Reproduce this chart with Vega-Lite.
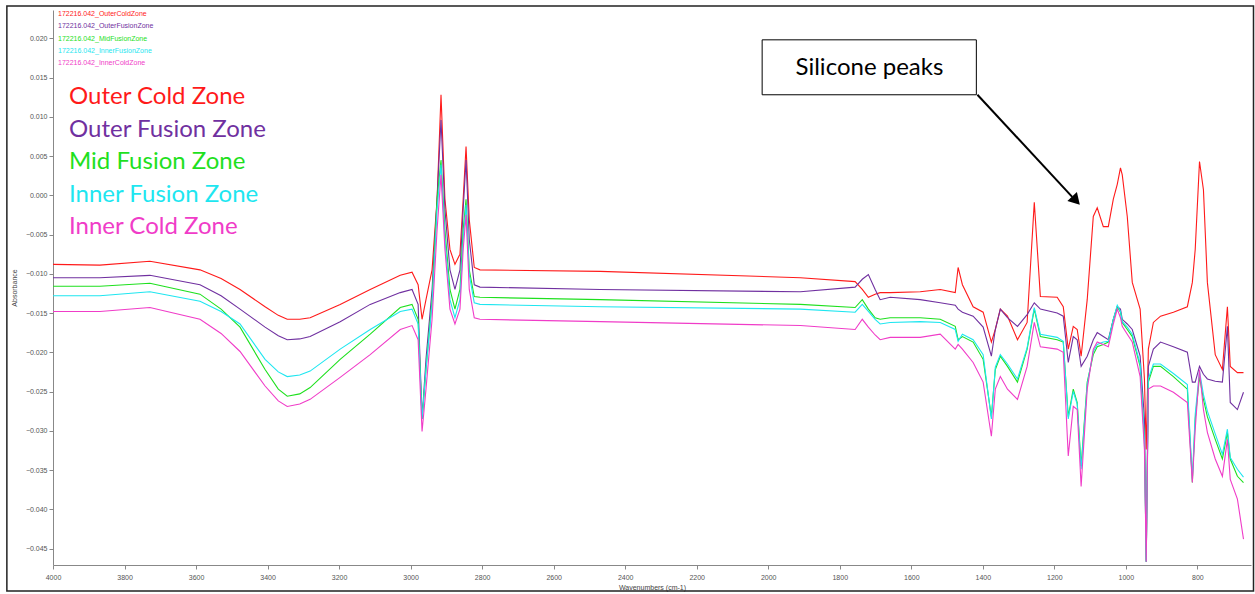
{
"$schema": "https://vega.github.io/schema/vega-lite/v6.json",
"width": 1198, "height": 555,
"autosize": {"type": "none"},
"padding": {"left": 53, "top": 10, "right": 4, "bottom": 29},
"background": "white",
"config": {"view": {"stroke": null}, "font": "Liberation Sans"},
"datasets": {
"spectra": [
{"wn":4000,"Outer Cold Zone":-0.0088,"Outer Fusion Zone":-0.0105,"Mid Fusion Zone":-0.0116,"Inner Fusion Zone":-0.0128,"Inner Cold Zone":-0.0148},
{"wn":3869,"Outer Cold Zone":-0.0089,"Outer Fusion Zone":-0.0105,"Mid Fusion Zone":-0.0116,"Inner Fusion Zone":-0.0128,"Inner Cold Zone":-0.0148},
{"wn":3729,"Outer Cold Zone":-0.0084,"Outer Fusion Zone":-0.0102,"Mid Fusion Zone":-0.0112,"Inner Fusion Zone":-0.0123,"Inner Cold Zone":-0.0143},
{"wn":3589,"Outer Cold Zone":-0.0095,"Outer Fusion Zone":-0.0114,"Mid Fusion Zone":-0.0126,"Inner Fusion Zone":-0.0135,"Inner Cold Zone":-0.0158},
{"wn":3530,"Outer Cold Zone":-0.0106,"Outer Fusion Zone":-0.0128,"Mid Fusion Zone":-0.0145,"Inner Fusion Zone":-0.0148,"Inner Cold Zone":-0.0176},
{"wn":3477,"Outer Cold Zone":-0.0120,"Outer Fusion Zone":-0.0145,"Mid Fusion Zone":-0.0168,"Inner Fusion Zone":-0.0164,"Inner Cold Zone":-0.0199},
{"wn":3407,"Outer Cold Zone":-0.0142,"Outer Fusion Zone":-0.0168,"Mid Fusion Zone":-0.0222,"Inner Fusion Zone":-0.0209,"Inner Cold Zone":-0.0243},
{"wn":3370,"Outer Cold Zone":-0.0153,"Outer Fusion Zone":-0.0179,"Mid Fusion Zone":-0.0247,"Inner Fusion Zone":-0.0225,"Inner Cold Zone":-0.0262},
{"wn":3345,"Outer Cold Zone":-0.0158,"Outer Fusion Zone":-0.0184,"Mid Fusion Zone":-0.0256,"Inner Fusion Zone":-0.0231,"Inner Cold Zone":-0.0269},
{"wn":3310,"Outer Cold Zone":-0.0158,"Outer Fusion Zone":-0.0183,"Mid Fusion Zone":-0.0253,"Inner Fusion Zone":-0.0229,"Inner Cold Zone":-0.0266},
{"wn":3281,"Outer Cold Zone":-0.0156,"Outer Fusion Zone":-0.0180,"Mid Fusion Zone":-0.0245,"Inner Fusion Zone":-0.0224,"Inner Cold Zone":-0.0260},
{"wn":3197,"Outer Cold Zone":-0.0139,"Outer Fusion Zone":-0.0161,"Mid Fusion Zone":-0.0209,"Inner Fusion Zone":-0.0196,"Inner Cold Zone":-0.0232},
{"wn":3113,"Outer Cold Zone":-0.0120,"Outer Fusion Zone":-0.0139,"Mid Fusion Zone":-0.0177,"Inner Fusion Zone":-0.0171,"Inner Cold Zone":-0.0203},
{"wn":3029,"Outer Cold Zone":-0.0102,"Outer Fusion Zone":-0.0124,"Mid Fusion Zone":-0.0143,"Inner Fusion Zone":-0.0148,"Inner Cold Zone":-0.0171},
{"wn":2996,"Outer Cold Zone":-0.0098,"Outer Fusion Zone":-0.0120,"Mid Fusion Zone":-0.0139,"Inner Fusion Zone":-0.0145,"Inner Cold Zone":-0.0166},
{"wn":2979,"Outer Cold Zone":-0.0114,"Outer Fusion Zone":-0.0139,"Mid Fusion Zone":-0.0158,"Inner Fusion Zone":-0.0164,"Inner Cold Zone":-0.0184},
{"wn":2968,"Outer Cold Zone":-0.0158,"Outer Fusion Zone":-0.0285,"Mid Fusion Zone":-0.0285,"Inner Fusion Zone":-0.0285,"Inner Cold Zone":-0.0301},
{"wn":2957,"Outer Cold Zone":-0.0133,"Outer Fusion Zone":-0.0209,"Mid Fusion Zone":-0.0222,"Inner Fusion Zone":-0.0222,"Inner Cold Zone":-0.0247},
{"wn":2940,"Outer Cold Zone":-0.0095,"Outer Fusion Zone":-0.0120,"Mid Fusion Zone":-0.0133,"Inner Fusion Zone":-0.0139,"Inner Cold Zone":-0.0158},
{"wn":2926,"Outer Cold Zone":-0.0005,"Outer Fusion Zone":-0.0005,"Mid Fusion Zone":-0.0005,"Inner Fusion Zone":-0.0018,"Inner Cold Zone":-0.0044},
{"wn":2915,"Outer Cold Zone":0.0128,"Outer Fusion Zone":0.0096,"Mid Fusion Zone":0.0045,"Inner Fusion Zone":0.0039,"Inner Cold Zone":0.0026},
{"wn":2904,"Outer Cold Zone":-0.0005,"Outer Fusion Zone":-0.0018,"Mid Fusion Zone":-0.0044,"Inner Fusion Zone":-0.0056,"Inner Cold Zone":-0.0069},
{"wn":2890,"Outer Cold Zone":-0.0069,"Outer Fusion Zone":-0.0095,"Mid Fusion Zone":-0.0120,"Inner Fusion Zone":-0.0133,"Inner Cold Zone":-0.0145},
{"wn":2876,"Outer Cold Zone":-0.0088,"Outer Fusion Zone":-0.0120,"Mid Fusion Zone":-0.0145,"Inner Fusion Zone":-0.0156,"Inner Cold Zone":-0.0164},
{"wn":2862,"Outer Cold Zone":-0.0075,"Outer Fusion Zone":-0.0095,"Mid Fusion Zone":-0.0120,"Inner Fusion Zone":-0.0133,"Inner Cold Zone":-0.0145},
{"wn":2853,"Outer Cold Zone":-0.0005,"Outer Fusion Zone":-0.0018,"Mid Fusion Zone":-0.0044,"Inner Fusion Zone":-0.0056,"Inner Cold Zone":-0.0069},
{"wn":2845,"Outer Cold Zone":0.0062,"Outer Fusion Zone":0.0045,"Mid Fusion Zone":-0.0005,"Inner Fusion Zone":-0.0012,"Inner Cold Zone":-0.0025},
{"wn":2836,"Outer Cold Zone":-0.0031,"Outer Fusion Zone":-0.0056,"Mid Fusion Zone":-0.0095,"Inner Fusion Zone":-0.0101,"Inner Cold Zone":-0.0120},
{"wn":2822,"Outer Cold Zone":-0.0092,"Outer Fusion Zone":-0.0114,"Mid Fusion Zone":-0.0129,"Inner Fusion Zone":-0.0137,"Inner Cold Zone":-0.0156},
{"wn":2806,"Outer Cold Zone":-0.0095,"Outer Fusion Zone":-0.0117,"Mid Fusion Zone":-0.0130,"Inner Fusion Zone":-0.0139,"Inner Cold Zone":-0.0158},
{"wn":2470,"Outer Cold Zone":-0.0097,"Outer Fusion Zone":-0.0120,"Mid Fusion Zone":-0.0133,"Inner Fusion Zone":-0.0142,"Inner Cold Zone":-0.0161},
{"wn":1910,"Outer Cold Zone":-0.0105,"Outer Fusion Zone":-0.0123,"Mid Fusion Zone":-0.0139,"Inner Fusion Zone":-0.0145,"Inner Cold Zone":-0.0166},
{"wn":1757,"Outer Cold Zone":-0.0110,"Outer Fusion Zone":-0.0117,"Mid Fusion Zone":-0.0143,"Inner Fusion Zone":-0.0149,"Inner Cold Zone":-0.0171},
{"wn":1737,"Outer Cold Zone":-0.0120,"Outer Fusion Zone":-0.0107,"Mid Fusion Zone":-0.0133,"Inner Fusion Zone":-0.0139,"Inner Cold Zone":-0.0158},
{"wn":1720,"Outer Cold Zone":-0.0130,"Outer Fusion Zone":-0.0101,"Mid Fusion Zone":-0.0145,"Inner Fusion Zone":-0.0148,"Inner Cold Zone":-0.0168},
{"wn":1701,"Outer Cold Zone":-0.0126,"Outer Fusion Zone":-0.0120,"Mid Fusion Zone":-0.0156,"Inner Fusion Zone":-0.0158,"Inner Cold Zone":-0.0178},
{"wn":1687,"Outer Cold Zone":-0.0124,"Outer Fusion Zone":-0.0133,"Mid Fusion Zone":-0.0158,"Inner Fusion Zone":-0.0164,"Inner Cold Zone":-0.0184},
{"wn":1659,"Outer Cold Zone":-0.0124,"Outer Fusion Zone":-0.0130,"Mid Fusion Zone":-0.0156,"Inner Fusion Zone":-0.0162,"Inner Cold Zone":-0.0181},
{"wn":1575,"Outer Cold Zone":-0.0123,"Outer Fusion Zone":-0.0133,"Mid Fusion Zone":-0.0156,"Inner Fusion Zone":-0.0161,"Inner Cold Zone":-0.0181},
{"wn":1519,"Outer Cold Zone":-0.0120,"Outer Fusion Zone":-0.0137,"Mid Fusion Zone":-0.0158,"Inner Fusion Zone":-0.0162,"Inner Cold Zone":-0.0177},
{"wn":1477,"Outer Cold Zone":-0.0124,"Outer Fusion Zone":-0.0140,"Mid Fusion Zone":-0.0167,"Inner Fusion Zone":-0.0171,"Inner Cold Zone":-0.0196},
{"wn":1469,"Outer Cold Zone":-0.0092,"Outer Fusion Zone":-0.0145,"Mid Fusion Zone":-0.0184,"Inner Fusion Zone":-0.0186,"Inner Cold Zone":-0.0190},
{"wn":1457,"Outer Cold Zone":-0.0114,"Outer Fusion Zone":-0.0149,"Mid Fusion Zone":-0.0180,"Inner Fusion Zone":-0.0177,"Inner Cold Zone":-0.0196},
{"wn":1427,"Outer Cold Zone":-0.0142,"Outer Fusion Zone":-0.0154,"Mid Fusion Zone":-0.0187,"Inner Fusion Zone":-0.0184,"Inner Cold Zone":-0.0213},
{"wn":1399,"Outer Cold Zone":-0.0149,"Outer Fusion Zone":-0.0168,"Mid Fusion Zone":-0.0209,"Inner Fusion Zone":-0.0203,"Inner Cold Zone":-0.0238},
{"wn":1376,"Outer Cold Zone":-0.0187,"Outer Fusion Zone":-0.0205,"Mid Fusion Zone":-0.0282,"Inner Fusion Zone":-0.0285,"Inner Cold Zone":-0.0307},
{"wn":1365,"Outer Cold Zone":-0.0171,"Outer Fusion Zone":-0.0171,"Mid Fusion Zone":-0.0222,"Inner Fusion Zone":-0.0219,"Inner Cold Zone":-0.0247},
{"wn":1351,"Outer Cold Zone":-0.0145,"Outer Fusion Zone":-0.0145,"Mid Fusion Zone":-0.0205,"Inner Fusion Zone":-0.0203,"Inner Cold Zone":-0.0231},
{"wn":1331,"Outer Cold Zone":-0.0154,"Outer Fusion Zone":-0.0156,"Mid Fusion Zone":-0.0218,"Inner Fusion Zone":-0.0215,"Inner Cold Zone":-0.0247},
{"wn":1303,"Outer Cold Zone":-0.0184,"Outer Fusion Zone":-0.0167,"Mid Fusion Zone":-0.0238,"Inner Fusion Zone":-0.0234,"Inner Cold Zone":-0.0260},
{"wn":1276,"Outer Cold Zone":-0.0162,"Outer Fusion Zone":-0.0152,"Mid Fusion Zone":-0.0196,"Inner Fusion Zone":-0.0194,"Inner Cold Zone":-0.0218},
{"wn":1256,"Outer Cold Zone":-0.0009,"Outer Fusion Zone":-0.0137,"Mid Fusion Zone":-0.0145,"Inner Fusion Zone":-0.0143,"Inner Cold Zone":-0.0162},
{"wn":1239,"Outer Cold Zone":-0.0129,"Outer Fusion Zone":-0.0145,"Mid Fusion Zone":-0.0180,"Inner Fusion Zone":-0.0177,"Inner Cold Zone":-0.0193},
{"wn":1192,"Outer Cold Zone":-0.0130,"Outer Fusion Zone":-0.0150,"Mid Fusion Zone":-0.0184,"Inner Fusion Zone":-0.0181,"Inner Cold Zone":-0.0196},
{"wn":1175,"Outer Cold Zone":-0.0142,"Outer Fusion Zone":-0.0154,"Mid Fusion Zone":-0.0187,"Inner Fusion Zone":-0.0186,"Inner Cold Zone":-0.0200},
{"wn":1161,"Outer Cold Zone":-0.0196,"Outer Fusion Zone":-0.0213,"Mid Fusion Zone":-0.0282,"Inner Fusion Zone":-0.0285,"Inner Cold Zone":-0.0332},
{"wn":1147,"Outer Cold Zone":-0.0167,"Outer Fusion Zone":-0.0180,"Mid Fusion Zone":-0.0247,"Inner Fusion Zone":-0.0250,"Inner Cold Zone":-0.0269},
{"wn":1136,"Outer Cold Zone":-0.0171,"Outer Fusion Zone":-0.0184,"Mid Fusion Zone":-0.0264,"Inner Fusion Zone":-0.0266,"Inner Cold Zone":-0.0273},
{"wn":1125,"Outer Cold Zone":-0.0205,"Outer Fusion Zone":-0.0218,"Mid Fusion Zone":-0.0345,"Inner Fusion Zone":-0.0349,"Inner Cold Zone":-0.0371},
{"wn":1108,"Outer Cold Zone":-0.0133,"Outer Fusion Zone":-0.0205,"Mid Fusion Zone":-0.0238,"Inner Fusion Zone":-0.0241,"Inner Cold Zone":-0.0247},
{"wn":1091,"Outer Cold Zone":-0.0027,"Outer Fusion Zone":-0.0184,"Mid Fusion Zone":-0.0203,"Inner Fusion Zone":-0.0199,"Inner Cold Zone":-0.0196},
{"wn":1080,"Outer Cold Zone":-0.0016,"Outer Fusion Zone":-0.0175,"Mid Fusion Zone":-0.0193,"Inner Fusion Zone":-0.0190,"Inner Cold Zone":-0.0187},
{"wn":1063,"Outer Cold Zone":-0.0040,"Outer Fusion Zone":-0.0180,"Mid Fusion Zone":-0.0190,"Inner Fusion Zone":-0.0187,"Inner Cold Zone":-0.0190},
{"wn":1049,"Outer Cold Zone":-0.0040,"Outer Fusion Zone":-0.0184,"Mid Fusion Zone":-0.0187,"Inner Fusion Zone":-0.0186,"Inner Cold Zone":-0.0193},
{"wn":1035,"Outer Cold Zone":-0.0005,"Outer Fusion Zone":-0.0158,"Mid Fusion Zone":-0.0158,"Inner Fusion Zone":-0.0158,"Inner Cold Zone":-0.0164},
{"wn":1024,"Outer Cold Zone":0.0014,"Outer Fusion Zone":-0.0142,"Mid Fusion Zone":-0.0142,"Inner Fusion Zone":-0.0140,"Inner Cold Zone":-0.0145},
{"wn":1015,"Outer Cold Zone":0.0035,"Outer Fusion Zone":-0.0145,"Mid Fusion Zone":-0.0149,"Inner Fusion Zone":-0.0148,"Inner Cold Zone":-0.0156},
{"wn":1010,"Outer Cold Zone":0.0026,"Outer Fusion Zone":-0.0158,"Mid Fusion Zone":-0.0162,"Inner Fusion Zone":-0.0161,"Inner Cold Zone":-0.0167},
{"wn":996,"Outer Cold Zone":-0.0027,"Outer Fusion Zone":-0.0164,"Mid Fusion Zone":-0.0171,"Inner Fusion Zone":-0.0168,"Inner Cold Zone":-0.0177},
{"wn":982,"Outer Cold Zone":-0.0111,"Outer Fusion Zone":-0.0171,"Mid Fusion Zone":-0.0180,"Inner Fusion Zone":-0.0177,"Inner Cold Zone":-0.0187},
{"wn":960,"Outer Cold Zone":-0.0145,"Outer Fusion Zone":-0.0205,"Mid Fusion Zone":-0.0218,"Inner Fusion Zone":-0.0215,"Inner Cold Zone":-0.0231},
{"wn":948,"Outer Cold Zone":-0.0234,"Outer Fusion Zone":-0.0285,"Mid Fusion Zone":-0.0311,"Inner Fusion Zone":-0.0311,"Inner Cold Zone":-0.0324},
{"wn":943,"Outer Cold Zone":-0.0324,"Outer Fusion Zone":-0.0467,"Mid Fusion Zone":-0.0467,"Inner Fusion Zone":-0.0467,"Inner Cold Zone":-0.0467},
{"wn":937,"Outer Cold Zone":-0.0196,"Outer Fusion Zone":-0.0218,"Mid Fusion Zone":-0.0238,"Inner Fusion Zone":-0.0234,"Inner Cold Zone":-0.0247},
{"wn":923,"Outer Cold Zone":-0.0162,"Outer Fusion Zone":-0.0196,"Mid Fusion Zone":-0.0218,"Inner Fusion Zone":-0.0215,"Inner Cold Zone":-0.0243},
{"wn":903,"Outer Cold Zone":-0.0154,"Outer Fusion Zone":-0.0187,"Mid Fusion Zone":-0.0218,"Inner Fusion Zone":-0.0215,"Inner Cold Zone":-0.0243},
{"wn":867,"Outer Cold Zone":-0.0149,"Outer Fusion Zone":-0.0193,"Mid Fusion Zone":-0.0231,"Inner Fusion Zone":-0.0227,"Inner Cold Zone":-0.0251},
{"wn":828,"Outer Cold Zone":-0.0142,"Outer Fusion Zone":-0.0200,"Mid Fusion Zone":-0.0247,"Inner Fusion Zone":-0.0241,"Inner Cold Zone":-0.0264},
{"wn":814,"Outer Cold Zone":-0.0111,"Outer Fusion Zone":-0.0238,"Mid Fusion Zone":-0.0366,"Inner Fusion Zone":-0.0362,"Inner Cold Zone":-0.0366},
{"wn":806,"Outer Cold Zone":-0.0069,"Outer Fusion Zone":-0.0238,"Mid Fusion Zone":-0.0285,"Inner Fusion Zone":-0.0279,"Inner Cold Zone":-0.0298},
{"wn":794,"Outer Cold Zone":0.0043,"Outer Fusion Zone":-0.0218,"Mid Fusion Zone":-0.0231,"Inner Fusion Zone":-0.0224,"Inner Cold Zone":-0.0222},
{"wn":783,"Outer Cold Zone":0.0007,"Outer Fusion Zone":-0.0228,"Mid Fusion Zone":-0.0260,"Inner Fusion Zone":-0.0254,"Inner Cold Zone":-0.0273},
{"wn":772,"Outer Cold Zone":-0.0111,"Outer Fusion Zone":-0.0234,"Mid Fusion Zone":-0.0282,"Inner Fusion Zone":-0.0275,"Inner Cold Zone":-0.0302},
{"wn":750,"Outer Cold Zone":-0.0203,"Outer Fusion Zone":-0.0237,"Mid Fusion Zone":-0.0311,"Inner Fusion Zone":-0.0304,"Inner Cold Zone":-0.0336},
{"wn":730,"Outer Cold Zone":-0.0222,"Outer Fusion Zone":-0.0238,"Mid Fusion Zone":-0.0336,"Inner Fusion Zone":-0.0330,"Inner Cold Zone":-0.0358},
{"wn":716,"Outer Cold Zone":-0.0142,"Outer Fusion Zone":-0.0167,"Mid Fusion Zone":-0.0302,"Inner Fusion Zone":-0.0298,"Inner Cold Zone":-0.0311},
{"wn":708,"Outer Cold Zone":-0.0218,"Outer Fusion Zone":-0.0264,"Mid Fusion Zone":-0.0336,"Inner Fusion Zone":-0.0334,"Inner Cold Zone":-0.0362},
{"wn":688,"Outer Cold Zone":-0.0226,"Outer Fusion Zone":-0.0273,"Mid Fusion Zone":-0.0358,"Inner Fusion Zone":-0.0349,"Inner Cold Zone":-0.0387},
{"wn":671,"Outer Cold Zone":-0.0226,"Outer Fusion Zone":-0.0251,"Mid Fusion Zone":-0.0366,"Inner Fusion Zone":-0.0359,"Inner Cold Zone":-0.0438}
],
"mini": [
{"label":"172216.042_OuterColdZone","series":"Outer Cold Zone","wn":3986,"a":0.0231},
{"label":"172216.042_OuterFusionZone","series":"Outer Fusion Zone","wn":3986,"a":0.0216},
{"label":"172216.042_MidFusionZone","series":"Mid Fusion Zone","wn":3986,"a":0.0199},
{"label":"172216.042_InnerFusionZone","series":"Inner Fusion Zone","wn":3986,"a":0.0184},
{"label":"172216.042_InnerColdZone","series":"Inner Cold Zone","wn":3986,"a":0.0169}
],
"one": [{}]
},
"layer": [
{
"data": {"name": "one"},
"mark": {"type": "rect", "fill": "transparent", "stroke": "#222222", "strokeWidth": 1.5, "clip": false},
"encoding": {
"x": {"datum": 4129, "type": "quantitative"},
"x2": {"datum": 643},
"y": {"datum": 0.0241, "type": "quantitative"},
"y2": {"datum": -0.0504}
}
},
{
"data": {"name": "spectra"},
"transform": [
{"fold": ["Outer Cold Zone", "Outer Fusion Zone", "Mid Fusion Zone", "Inner Fusion Zone", "Inner Cold Zone"], "as": ["series", "a"]}
],
"mark": {"type": "line", "strokeWidth": 1.1, "clip": true},
"encoding": {
"x": {"field": "wn", "type": "quantitative",
"scale": {"domain": [4000, 650], "nice": false, "zero": false},
"axis": {"values": [4000,3800,3600,3400,3200,3000,2800,2600,2400,2200,2000,1800,1600,1400,1200,1000,800],
"format": "d", "title": "Wavenumbers (cm-1)", "grid": false,
"labelFontSize": 7, "titleFontSize": 7, "titleFontWeight": "normal",
"labelColor": "#555555", "titleColor": "#444444", "tickColor": "#888888", "domainColor": "#888888",
"tickSize": 4, "labelPadding": 4, "titlePadding": 3, "labelFlush": false}},
"y": {"field": "a", "type": "quantitative",
"scale": {"domain": [-0.0471, 0.0236], "nice": false, "zero": false},
"axis": {"values": [0.02,0.015,0.01,0.005,0,-0.005,-0.01,-0.015,-0.02,-0.025,-0.03,-0.035,-0.04,-0.045],
"format": ".3f", "title": "Absorbance", "grid": false,
"labelFontSize": 7, "titleFontSize": 7, "titleFontWeight": "normal",
"labelColor": "#555555", "titleColor": "#444444", "tickColor": "#888888", "domainColor": "#888888",
"tickSize": 4, "labelPadding": 2, "titlePadding": 8}},
"color": {"field": "series", "type": "nominal",
"scale": {"domain": ["Outer Cold Zone", "Outer Fusion Zone", "Mid Fusion Zone", "Inner Fusion Zone", "Inner Cold Zone"],
"range": ["#FF1A1A", "#7030A0", "#1EE01E", "#1EE6F0", "#F03CC8"]},
"legend": {"orient": "none", "legendX": -8, "legendY": 75, "title": null,
"labelFont": "Lato", "labelFontSize": 24, "symbolSize": 0, "symbolOpacity": 0, "symbolStrokeWidth": 0,
"labelOffset": 0, "rowPadding": 8.6, "padding": 0, "labelLimit": 400,
"encode": {"labels": {"update": {"fill": {"scale": "color", "field": "value"}}}}}}
}
},
{
"data": {"name": "mini"},
"mark": {"type": "text", "fontSize": 7, "align": "left", "baseline": "middle", "clip": false},
"encoding": {
"x": {"field": "wn", "type": "quantitative"},
"y": {"field": "a", "type": "quantitative"},
"text": {"field": "label"},
"color": {"field": "series", "type": "nominal", "legend": null}
}
},
{
"data": {"name": "one"},
"mark": {"type": "rect", "fill": "white", "stroke": "black", "strokeWidth": 1},
"encoding": {
"x": {"datum": 2017, "type": "quantitative"},
"x2": {"datum": 1418},
"y": {"datum": 0.0198, "type": "quantitative"},
"y2": {"datum": 0.0128}
}
},
{
"data": {"name": "one"},
"mark": {"type": "text", "font": "Lato", "fontSize": 24, "color": "black", "align": "center", "baseline": "middle"},
"encoding": {
"x": {"datum": 1717, "type": "quantitative"},
"y": {"datum": 0.0162, "type": "quantitative"},
"text": {"value": "Silicone peaks"}
}
},
{
"data": {"name": "one"},
"mark": {"type": "rule", "color": "black", "strokeWidth": 2},
"encoding": {
"x": {"datum": 1415, "type": "quantitative"},
"x2": {"datum": 1150},
"y": {"datum": 0.0128, "type": "quantitative"},
"y2": {"datum": -0.0002}
}
},
{
"data": {"name": "one"},
"mark": {"type": "point", "shape": "triangle", "filled": true, "color": "black", "size": 170, "angle": 137, "opacity": 1},
"encoding": {
"x": {"datum": 1143, "type": "quantitative"},
"y": {"datum": -0.0005, "type": "quantitative"}
}
}
]
}
